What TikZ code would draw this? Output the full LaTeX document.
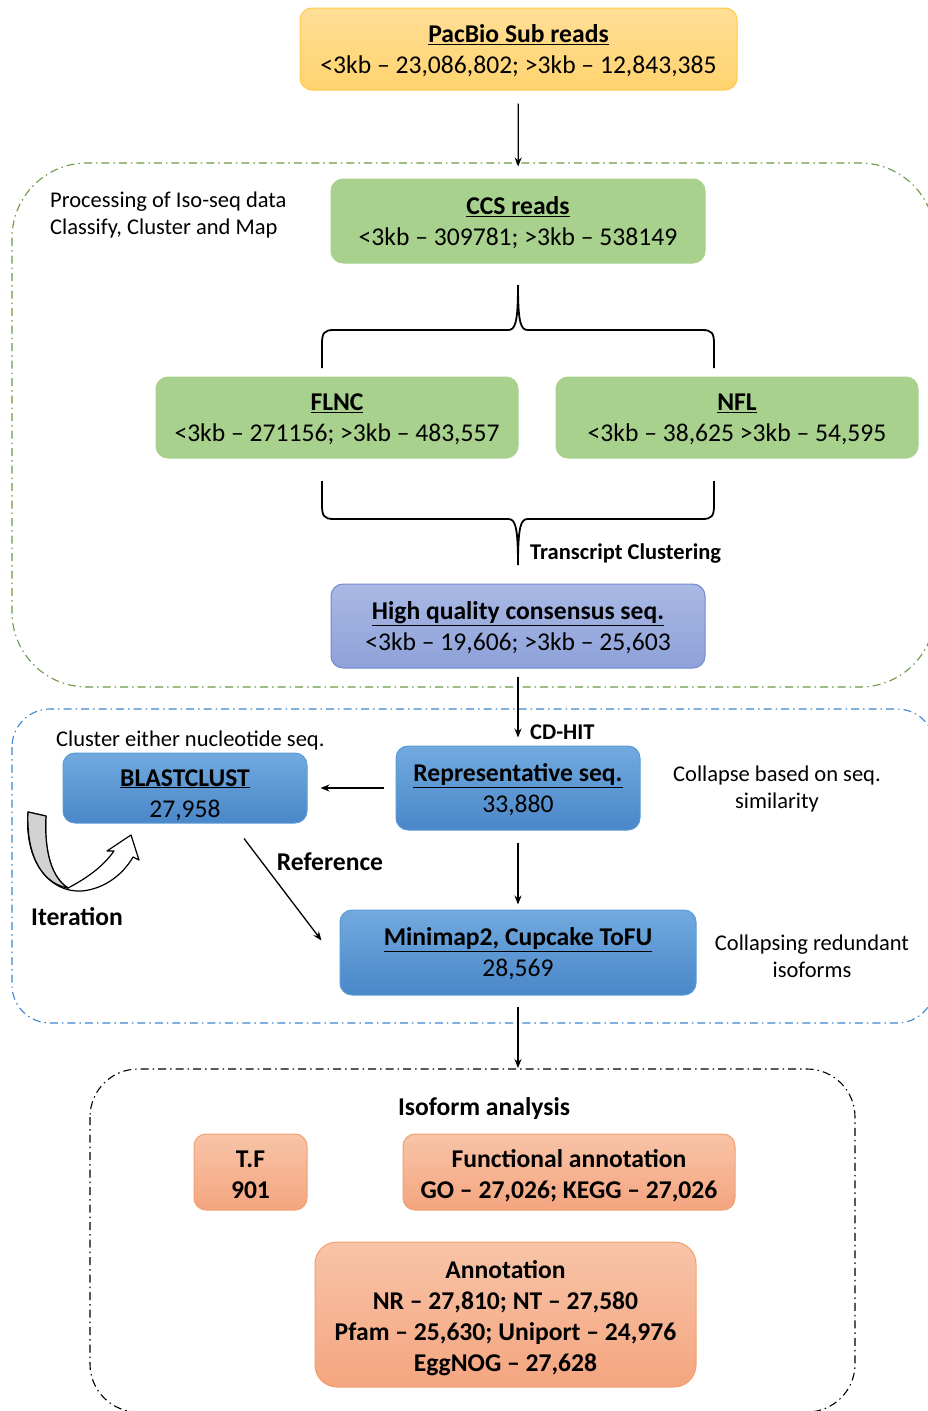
\documentclass[tikz,border=0pt]{standalone}
\usepackage{fontspec}
\setmainfont{Carlito}
\usepackage{xcolor}
\usepackage{tikz}
\usetikzlibrary{arrows.meta}

\definecolor{yelTop}{HTML}{FFDE96}
\definecolor{yelBot}{HTML}{FFD36E}
\definecolor{yelLine}{HTML}{FFC94A}
\definecolor{grnBox}{HTML}{A9D18E}
\definecolor{hqTop}{HTML}{A9B9E4}
\definecolor{hqBot}{HTML}{8EA1D9}
\definecolor{hqLine}{HTML}{7389CE}
\definecolor{bluTop}{HTML}{72AADF}
\definecolor{bluBot}{HTML}{4A87C9}
\definecolor{bluLine}{HTML}{5B9BD5}
\definecolor{orgTop}{HTML}{F8C4A8}
\definecolor{orgBot}{HTML}{F4A57F}
\definecolor{orgLine}{HTML}{F2A06E}
\definecolor{grnFrame}{HTML}{6A9A45}
\definecolor{bluFrame}{HTML}{3B87CF}

\newcommand{\boxtxt}{\fontsize{25.6}{31}\selectfont}
\newcommand{\notetxt}{\fontsize{22.5}{27}\selectfont}
\newcommand{\ttl}[1]{\underline{\textbf{#1}}}
\newcommand{\lift}[1]{\rule{0pt}{#1pt}}

\begin{document}
\begin{tikzpicture}[x=1pt,y=-1pt,
  box/.style={rounded corners=12pt,inner sep=0pt,align=center,font=\boxtxt,line width=1pt,text depth=0pt},
  yelbox/.style={box,top color=yelTop,bottom color=yelBot,draw=yelLine},
  grnbox/.style={box,fill=grnBox,draw=grnBox},
  hqbox/.style={box,top color=hqTop,bottom color=hqBot,draw=hqLine},
  blubox/.style={box,top color=bluTop,bottom color=bluBot,draw=bluLine},
  orgbox/.style={box,top color=orgTop,bottom color=orgBot,draw=orgLine,font=\boxtxt\bfseries},
  note/.style={inner sep=0pt,font=\notetxt},
  bnote/.style={inner sep=0pt,font=\boxtxt\bfseries},
  frame/.style={line width=1.1pt,dash pattern=on 8pt off 4pt on 1.5pt off 4pt},
  arr/.style={->,line width=1.3pt,>={Stealth[length=9pt,width=7pt]}},
  brace/.style={line width=1.8pt}]
\useasboundingbox (0,0) rectangle (928,1411);
\clip (0,0) rectangle (928,1411);

% frames
\draw[frame,grnFrame,rounded corners=75pt] (12,163) rectangle (935,687);
\draw[frame,bluFrame,rounded corners=38pt] (12,709) rectangle (935,1023);
\draw[frame,black,rounded corners=48pt] (90,1069) rectangle (855,1412);

% boxes
\node[yelbox,minimum width=437,minimum height=82] (pacbio) at (518.5,49)
  {\ttl{PacBio Sub reads}\\<3kb -- 23,086,802; >3kb -- 12,843,385};
\node[grnbox,minimum width=374,minimum height=84] (ccs) at (518,221)
  {\ttl{CCS reads}\\<3kb -- 309781; >3kb -- 538149};
\node[grnbox,minimum width=362,minimum height=81] (flnc) at (337,417.5)
  {\ttl{FLNC}\\<3kb -- 271156; >3kb -- 483,557};
\node[grnbox,minimum width=362,minimum height=81] (nfl) at (737,417.5)
  {\ttl{NFL}\\<3kb -- 38,625 >3kb -- 54,595};
\node[hqbox,minimum width=374,minimum height=84] (hq) at (518,626)
  {\ttl{High quality consensus seq.}\\<3kb -- 19,606; >3kb -- 25,603};
\node[blubox,minimum width=244,minimum height=70] (blast) at (185,788)
  {\lift{27}\ttl{BLASTCLUST}\\27,958};
\node[blubox,minimum width=244,minimum height=84] (repr) at (518,788)
  {\ttl{Representative seq.}\\33,880};
\node[blubox,minimum width=356,minimum height=85] (mini) at (518,952.5)
  {\ttl{Minimap2, Cupcake ToFU}\\28,569};
\node[orgbox,minimum width=113,minimum height=76] (tf) at (250.5,1172) {\lift{22}T.F\\901};
\node[orgbox,minimum width=332,minimum height=76] (func) at (569,1172)
  {\lift{22}Functional annotation\\GO -- 27,026; KEGG -- 27,026};
\node[orgbox,minimum width=381,minimum height=145,rounded corners=22pt] (annot) at (505.5,1314.5)
  {\lift{21}Annotation\\NR -- 27,810; NT -- 27,580\\Pfam -- 25,630; Uniport -- 24,976\\EggNOG -- 27,628};

% texts
\node[note,align=left,anchor=west] (proc) at (50,214.5) {Processing of Iso-seq data\\Classify, Cluster and Map};
\node[note,anchor=west] (clnote) at (56,740) {Cluster either nucleotide seq.};
\node[note,align=center] (colnote) at (777,788.5) {Collapse based on seq.\\similarity};
\node[note,align=center] (rednote) at (812,956.5) {Collapsing redundant\\isoforms};
\node[inner sep=0pt,font=\notetxt\bfseries,anchor=west] (tclust) at (530,554) {Transcript Clustering};
\node[inner sep=0pt,font=\notetxt\bfseries,anchor=west] (cdhit) at (530,732) {CD-HIT};
\node[bnote] (refer) at (330,862) {Reference};
\node[bnote,anchor=west] (iter) at (31,917) {Iteration};
\node[bnote] (isoan) at (484,1109) {Isoform analysis};
\coordinate (isotop) at (518,1069);

% braces
\draw[brace] (322,368) -- (322,344) .. controls (322,333) and (324,330) .. (334,330)
  -- (508,330) .. controls (515,330) and (518,324) .. (518,285)
  .. controls (518,324) and (521,330) .. (528,330) -- (702,330)
  .. controls (712,330) and (714,333) .. (714,344) -- (714,368);
\draw[brace] (322,481) -- (322,505) .. controls (322,516) and (324,519) .. (334,519)
  -- (508,519) .. controls (515,519) and (518,525) .. (518,565)
  .. controls (518,525) and (521,519) .. (528,519) -- (702,519)
  .. controls (712,519) and (714,516) .. (714,505) -- (714,481);

% arrows
\draw[arr,shorten <=13pt,shorten >=12pt] (pacbio) -- (ccs);
\draw[arr,shorten <=8pt,shorten >=8pt] (hq) -- (repr);
\draw[arr,shorten <=12pt,shorten >=13pt] (repr) -- (blast);
\draw[arr,shorten <=12pt,shorten >=5pt] (repr) -- (mini);
\draw[arr,shorten <=11pt,shorten >=1pt] (mini) -- (isotop);
\draw[arr] ([xshift=59pt,yshift=-15pt]blast.south) -- ([xshift=-18pt,yshift=12pt]mini.west);

% iteration arrow
\draw[line width=1.2pt,fill=white,line join=round] (28,812) .. controls (24,862) and (50,893) .. (82,891)
  .. controls (103,889) and (122,876) .. (133,857) -- (139,860) -- (131,835) -- (107,851) -- (114,851)
  .. controls (102,868) and (85,879) .. (68,888) .. controls (52,878) and (44,852) .. (46,816) -- cycle;
\draw[line width=1.2pt,fill=gray!35,line join=round] (28,812) -- (46,816) .. controls (44,852) and (52,878) .. (68,888)
  .. controls (45,884) and (26,860) .. (28,812) -- cycle;
\end{tikzpicture}
\end{document}
